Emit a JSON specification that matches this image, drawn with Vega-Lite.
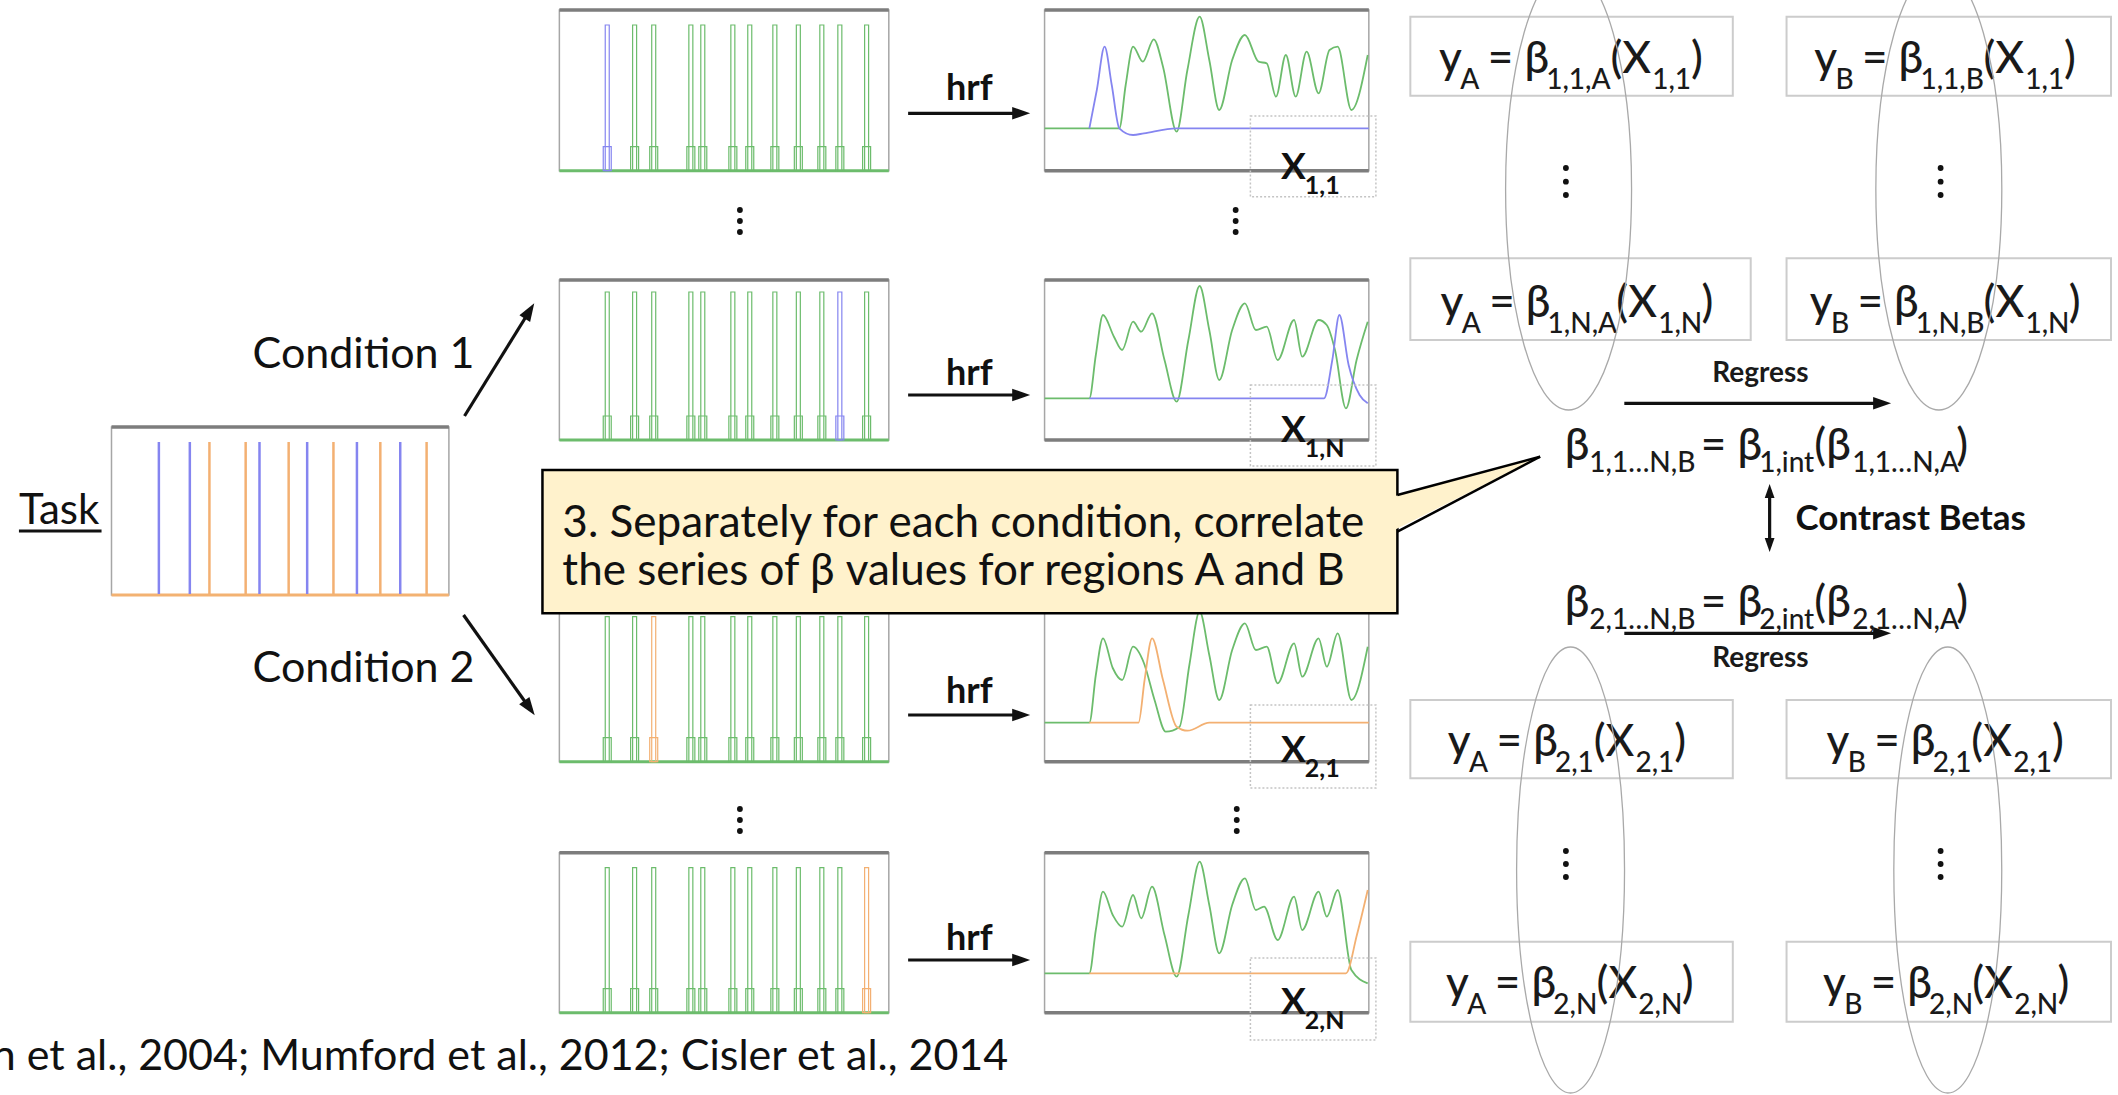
{
"$schema": "https://vega.github.io/schema/vega-lite/v6.json",
"width": 2118, "height": 1095,
"autosize": {"type": "none"},
"padding": 0,
"background": "#ffffff",
"config": {"view": {"stroke": null}, "font": "Lato"},
"datasets": {
"frames": [
{"kind":"spike","x":557,"x2":888,"y":10,"y2":170.7},
{"kind":"spike","x":557,"x2":888,"y":280,"y2":440},
{"kind":"spike","x":557,"x2":888,"y":601.7,"y2":761.7},
{"kind":"spike","x":557,"x2":888,"y":852.7,"y2":1012.7},
{"kind":"hrf","x":1044.5,"x2":1370.3,"y":10,"y2":170.7},
{"kind":"hrf","x":1044.5,"x2":1370.3,"y":280,"y2":440},
{"kind":"hrf","x":1044.5,"x2":1370.3,"y":601.7,"y2":761.7},
{"kind":"hrf","x":1044.5,"x2":1370.3,"y":852.7,"y2":1012.7},
{"kind":"task","x":107,"x2":446,"y":427,"y2":595}
],
"taskEvents": [
{"x":154.6,"c":"blue","y":442,"y2":594},{"x":185.7,"c":"blue","y":442,"y2":594},
{"x":205.4,"c":"orange","y":442,"y2":594},{"x":241.8,"c":"orange","y":442,"y2":594},
{"x":255.7,"c":"blue","y":442,"y2":594},{"x":285,"c":"orange","y":442,"y2":594},
{"x":303.6,"c":"blue","y":442,"y2":594},{"x":330,"c":"orange","y":442,"y2":594},
{"x":353.6,"c":"blue","y":442,"y2":594},{"x":377.1,"c":"orange","y":442,"y2":594},
{"x":397.1,"c":"blue","y":442,"y2":594},{"x":423.6,"c":"orange","y":442,"y2":594}
],
"spikes": [
{"x":605.1,"c":"blue","y":25,"k":146.7,"y2":170.7},{"x":632.6,"c":"green","y":25,"k":146.7,"y2":170.7},
{"x":651.8,"c":"green","y":25,"k":146.7,"y2":170.7},{"x":689.1,"c":"green","y":25,"k":146.7,"y2":170.7},
{"x":701.1,"c":"green","y":25,"k":146.7,"y2":170.7},{"x":731.3,"c":"green","y":25,"k":146.7,"y2":170.7},
{"x":748.3,"c":"green","y":25,"k":146.7,"y2":170.7},{"x":773.5,"c":"green","y":25,"k":146.7,"y2":170.7},
{"x":797.1,"c":"green","y":25,"k":146.7,"y2":170.7},{"x":820.7,"c":"green","y":25,"k":146.7,"y2":170.7},
{"x":838.8,"c":"green","y":25,"k":146.7,"y2":170.7},{"x":865.7,"c":"green","y":25,"k":146.7,"y2":170.7},
{"x":605.1,"c":"green","y":292,"k":416,"y2":440},{"x":632.6,"c":"green","y":292,"k":416,"y2":440},
{"x":651.8,"c":"green","y":292,"k":416,"y2":440},{"x":689.1,"c":"green","y":292,"k":416,"y2":440},
{"x":701.1,"c":"green","y":292,"k":416,"y2":440},{"x":731.3,"c":"green","y":292,"k":416,"y2":440},
{"x":748.3,"c":"green","y":292,"k":416,"y2":440},{"x":773.5,"c":"green","y":292,"k":416,"y2":440},
{"x":797.1,"c":"green","y":292,"k":416,"y2":440},{"x":820.7,"c":"green","y":292,"k":416,"y2":440},
{"x":838.8,"c":"blue","y":292,"k":416,"y2":440},{"x":865.7,"c":"green","y":292,"k":416,"y2":440},
{"x":605.1,"c":"green","y":616.7,"k":737.7,"y2":761.7},{"x":632.6,"c":"green","y":616.7,"k":737.7,"y2":761.7},
{"x":651.8,"c":"orange","y":616.7,"k":737.7,"y2":761.7},{"x":689.1,"c":"green","y":616.7,"k":737.7,"y2":761.7},
{"x":701.1,"c":"green","y":616.7,"k":737.7,"y2":761.7},{"x":731.3,"c":"green","y":616.7,"k":737.7,"y2":761.7},
{"x":748.3,"c":"green","y":616.7,"k":737.7,"y2":761.7},{"x":773.5,"c":"green","y":616.7,"k":737.7,"y2":761.7},
{"x":797.1,"c":"green","y":616.7,"k":737.7,"y2":761.7},{"x":820.7,"c":"green","y":616.7,"k":737.7,"y2":761.7},
{"x":838.8,"c":"green","y":616.7,"k":737.7,"y2":761.7},{"x":865.7,"c":"green","y":616.7,"k":737.7,"y2":761.7},
{"x":605.1,"c":"green","y":867.7,"k":988.7,"y2":1012.7},{"x":632.6,"c":"green","y":867.7,"k":988.7,"y2":1012.7},
{"x":651.8,"c":"green","y":867.7,"k":988.7,"y2":1012.7},{"x":689.1,"c":"green","y":867.7,"k":988.7,"y2":1012.7},
{"x":701.1,"c":"green","y":867.7,"k":988.7,"y2":1012.7},{"x":731.3,"c":"green","y":867.7,"k":988.7,"y2":1012.7},
{"x":748.3,"c":"green","y":867.7,"k":988.7,"y2":1012.7},{"x":773.5,"c":"green","y":867.7,"k":988.7,"y2":1012.7},
{"x":797.1,"c":"green","y":867.7,"k":988.7,"y2":1012.7},{"x":820.7,"c":"green","y":867.7,"k":988.7,"y2":1012.7},
{"x":838.8,"c":"green","y":867.7,"k":988.7,"y2":1012.7},{"x":865.7,"c":"orange","y":867.7,"k":988.7,"y2":1012.7}
],
"hrfCurves": [
{"id":"r1g","c":"green","x":1044.5,"y":128.3},{"id":"r1g","c":"green","x":1119.6,"y":128.3},{"id":"r1g","c":"green","x":1126,"y":85},{"id":"r1g","c":"green","x":1133.4,"y":46.7},{"id":"r1g","c":"green","x":1143.2,"y":61.7},{"id":"r1g","c":"green","x":1154.2,"y":39.3},{"id":"r1g","c":"green","x":1163.5,"y":66.7},{"id":"r1g","c":"green","x":1177.2,"y":131.7},{"id":"r1g","c":"green","x":1188,"y":70},{"id":"r1g","c":"green","x":1200.3,"y":16.7},{"id":"r1g","c":"green","x":1210,"y":60},{"id":"r1g","c":"green","x":1220,"y":110},{"id":"r1g","c":"green","x":1233,"y":60},{"id":"r1g","c":"green","x":1245.8,"y":35},{"id":"r1g","c":"green","x":1259.5,"y":61.7},{"id":"r1g","c":"green","x":1267.7,"y":63.3},{"id":"r1g","c":"green","x":1277,"y":96.7},{"id":"r1g","c":"green","x":1286.9,"y":55},{"id":"r1g","c":"green","x":1296.8,"y":96.7},{"id":"r1g","c":"green","x":1307.8,"y":51.7},{"id":"r1g","c":"green","x":1319.8,"y":93.3},{"id":"r1g","c":"green","x":1330.8,"y":50},{"id":"r1g","c":"green","x":1339,"y":46.7},{"id":"r1g","c":"green","x":1352.8,"y":110},{"id":"r1g","c":"green","x":1369.2,"y":55},
{"id":"r1b","c":"blue","x":1089.5,"y":128.3},{"id":"r1b","c":"blue","x":1097,"y":90},{"id":"r1b","c":"blue","x":1104.8,"y":46.7},{"id":"r1b","c":"blue","x":1112,"y":85},{"id":"r1b","c":"blue","x":1119.6,"y":128.3},{"id":"r1b","c":"blue","x":1133.4,"y":135},{"id":"r1b","c":"blue","x":1144.3,"y":133.3},{"id":"r1b","c":"blue","x":1177.2,"y":128.3},{"id":"r1b","c":"blue","x":1370.3,"y":128.3},
{"id":"r2g","c":"green","x":1044.5,"y":398.3},{"id":"r2g","c":"green","x":1089.5,"y":398.3},{"id":"r2g","c":"green","x":1096,"y":355},{"id":"r2g","c":"green","x":1103.2,"y":315},{"id":"r2g","c":"green","x":1114.2,"y":336.7},{"id":"r2g","c":"green","x":1122.4,"y":350},{"id":"r2g","c":"green","x":1133.4,"y":321.7},{"id":"r2g","c":"green","x":1141.6,"y":331.7},{"id":"r2g","c":"green","x":1152.5,"y":313.3},{"id":"r2g","c":"green","x":1165,"y":360},{"id":"r2g","c":"green","x":1177.2,"y":401.7},{"id":"r2g","c":"green","x":1189,"y":340},{"id":"r2g","c":"green","x":1200.3,"y":286},{"id":"r2g","c":"green","x":1210,"y":330},{"id":"r2g","c":"green","x":1220,"y":380},{"id":"r2g","c":"green","x":1233,"y":330},{"id":"r2g","c":"green","x":1245.8,"y":303.3},{"id":"r2g","c":"green","x":1256.8,"y":330},{"id":"r2g","c":"green","x":1267.7,"y":326.7},{"id":"r2g","c":"green","x":1278.7,"y":360},{"id":"r2g","c":"green","x":1295.2,"y":320},{"id":"r2g","c":"green","x":1303.4,"y":356.7},{"id":"r2g","c":"green","x":1319.8,"y":320},{"id":"r2g","c":"green","x":1328,"y":325},{"id":"r2g","c":"green","x":1336.3,"y":350},{"id":"r2g","c":"green","x":1347.3,"y":408.3},{"id":"r2g","c":"green","x":1358,"y":360},{"id":"r2g","c":"green","x":1369.2,"y":321.7},
{"id":"r2b","c":"blue","x":1089.5,"y":398.3},{"id":"r2b","c":"blue","x":1325.3,"y":398.3},{"id":"r2b","c":"blue","x":1333.6,"y":360},{"id":"r2b","c":"blue","x":1340.7,"y":315},{"id":"r2b","c":"blue","x":1350,"y":365},{"id":"r2b","c":"blue","x":1361,"y":395},{"id":"r2b","c":"blue","x":1369.2,"y":403.3},
{"id":"r3g","c":"green","x":1044.5,"y":722.7},{"id":"r3g","c":"green","x":1089.5,"y":722.7},{"id":"r3g","c":"green","x":1096,"y":675},{"id":"r3g","c":"green","x":1103.2,"y":638.3},{"id":"r3g","c":"green","x":1113,"y":668},{"id":"r3g","c":"green","x":1122.4,"y":680},{"id":"r3g","c":"green","x":1133.4,"y":646.7},{"id":"r3g","c":"green","x":1144.3,"y":663},{"id":"r3g","c":"green","x":1155,"y":700},{"id":"r3g","c":"green","x":1166.3,"y":731.7},{"id":"r3g","c":"green","x":1180,"y":727},{"id":"r3g","c":"green","x":1190,"y":665},{"id":"r3g","c":"green","x":1200.3,"y":611.7},{"id":"r3g","c":"green","x":1210,"y":655},{"id":"r3g","c":"green","x":1220,"y":700},{"id":"r3g","c":"green","x":1233,"y":650},{"id":"r3g","c":"green","x":1245.8,"y":623.3},{"id":"r3g","c":"green","x":1256.8,"y":650},{"id":"r3g","c":"green","x":1267.7,"y":646.7},{"id":"r3g","c":"green","x":1278.7,"y":683.3},{"id":"r3g","c":"green","x":1295.2,"y":643.3},{"id":"r3g","c":"green","x":1303.4,"y":676.7},{"id":"r3g","c":"green","x":1319.8,"y":638.3},{"id":"r3g","c":"green","x":1328.1,"y":666.7},{"id":"r3g","c":"green","x":1339,"y":633.3},{"id":"r3g","c":"green","x":1352.8,"y":700},{"id":"r3g","c":"green","x":1369.2,"y":646.7},
{"id":"r3o","c":"orange","x":1089.5,"y":722.7},{"id":"r3o","c":"orange","x":1138.9,"y":722.7},{"id":"r3o","c":"orange","x":1145,"y":680},{"id":"r3o","c":"orange","x":1152.5,"y":638.3},{"id":"r3o","c":"orange","x":1163.5,"y":680},{"id":"r3o","c":"orange","x":1177.2,"y":726.7},{"id":"r3o","c":"orange","x":1188.2,"y":730.7},{"id":"r3o","c":"orange","x":1210.1,"y":722.7},{"id":"r3o","c":"orange","x":1370.3,"y":722.7},
{"id":"r4g","c":"green","x":1044.5,"y":973.3},{"id":"r4g","c":"green","x":1089.5,"y":973.3},{"id":"r4g","c":"green","x":1096,"y":930},{"id":"r4g","c":"green","x":1103.2,"y":891.7},{"id":"r4g","c":"green","x":1113,"y":915},{"id":"r4g","c":"green","x":1122.4,"y":926.7},{"id":"r4g","c":"green","x":1133.4,"y":895},{"id":"r4g","c":"green","x":1141.6,"y":918.3},{"id":"r4g","c":"green","x":1152.5,"y":886.7},{"id":"r4g","c":"green","x":1165,"y":935},{"id":"r4g","c":"green","x":1177.2,"y":976.7},{"id":"r4g","c":"green","x":1189,"y":915},{"id":"r4g","c":"green","x":1200.3,"y":861.7},{"id":"r4g","c":"green","x":1210,"y":905},{"id":"r4g","c":"green","x":1220,"y":953.3},{"id":"r4g","c":"green","x":1233,"y":905},{"id":"r4g","c":"green","x":1245.8,"y":878.3},{"id":"r4g","c":"green","x":1256.8,"y":910},{"id":"r4g","c":"green","x":1265,"y":906.7},{"id":"r4g","c":"green","x":1278.7,"y":940},{"id":"r4g","c":"green","x":1295.2,"y":896.7},{"id":"r4g","c":"green","x":1303.4,"y":930},{"id":"r4g","c":"green","x":1319.8,"y":891.7},{"id":"r4g","c":"green","x":1328.1,"y":916.7},{"id":"r4g","c":"green","x":1339,"y":890},{"id":"r4g","c":"green","x":1352.8,"y":970},{"id":"r4g","c":"green","x":1369.2,"y":983.3},
{"id":"r4o","c":"orange","x":1089.5,"y":973.3},{"id":"r4o","c":"orange","x":1347.3,"y":973.3},{"id":"r4o","c":"orange","x":1358.3,"y":935},{"id":"r4o","c":"orange","x":1369.2,"y":890}
],
"xBoxes": [
{"x":1251.3,"x2":1377.4,"y":116,"y2":196.7},{"x":1251.3,"x2":1377.4,"y":385,"y2":466},
{"x":1251.3,"x2":1377.4,"y":705,"y2":788},{"x":1251.3,"x2":1377.4,"y":958,"y2":1040}
],
"xMain": [{"x":1282,"y":179,"t":"X"},{"x":1282,"y":442,"t":"X"},{"x":1282,"y":762,"t":"X"},{"x":1282,"y":1014,"t":"X"}],
"xSub": [{"x":1306,"y":194,"t":"1,1"},{"x":1306,"y":457,"t":"1,N"},{"x":1306,"y":777,"t":"2,1"},{"x":1306,"y":1029,"t":"2,N"}],
"hrfLabels": [{"x":968.8,"y":100,"t":"hrf"},{"x":968.8,"y":385,"t":"hrf"},{"x":968.8,"y":703,"t":"hrf"},{"x":968.8,"y":950,"t":"hrf"}],
"arrows": [
{"x":907.4,"y":113.3,"x2":1022,"y2":113.3},{"x":907.4,"y":395,"x2":1022,"y2":395},
{"x":907.4,"y":715,"x2":1022,"y2":715},{"x":907.4,"y":960,"x2":1022,"y2":960},
{"x":1627,"y":403.3,"x2":1887,"y2":403.3},{"x":1627,"y":633.3,"x2":1887,"y2":633.3},
{"x":1773,"y":490,"x2":1773,"y2":546},
{"x":461.7,"y":416,"x2":527,"y2":311},{"x":460.7,"y":615,"x2":527,"y2":708}
],
"heads": [
{"dir":"right","x":1021,"y":113.3},{"dir":"right","x":1021,"y":395},{"dir":"right","x":1021,"y":715},{"dir":"right","x":1021,"y":960},
{"dir":"right","x":1886,"y":403.3},{"dir":"right","x":1886,"y":633.3},
{"dir":"up","x":1773,"y":491},{"dir":"down","x":1773,"y":545},
{"dir":"c1","x":527,"y":311},{"dir":"c2","x":527,"y":708}
],
"dots": [
{"x":738.4,"y":210},{"x":738.4,"y":221},{"x":738.4,"y":232},{"x":1236.5,"y":210},{"x":1236.5,"y":221},{"x":1236.5,"y":232},
{"x":738.4,"y":809},{"x":738.4,"y":820},{"x":738.4,"y":831},{"x":1237.6,"y":809},{"x":1237.6,"y":820},{"x":1237.6,"y":831},
{"x":1568.3,"y":168},{"x":1568.3,"y":181.7},{"x":1568.3,"y":195},{"x":1944.8,"y":168},{"x":1944.8,"y":181.7},{"x":1944.8,"y":195},
{"x":1568.3,"y":851},{"x":1568.3,"y":864},{"x":1568.3,"y":877},{"x":1944.8,"y":851},{"x":1944.8,"y":864},{"x":1944.8,"y":877}
],
"taskLabel": [{"x":14,"y":524,"t":"Task"}],
"underline": [{"x":14,"x2":97,"y":531}],
"condLabels": [{"x":471.7,"y":368,"t":"Condition 1"},{"x":471.7,"y":682,"t":"Condition 2"}],
"eqBoxes": [
{"x":1412,"x2":1736,"y":16.7,"y2":95.7},{"x":1790,"x2":2116,"y":16.7,"y2":95.7},
{"x":1412,"x2":1754,"y":258.3,"y2":340},{"x":1790,"x2":2116,"y":258.3,"y2":340},
{"x":1412,"x2":1736,"y":700,"y2":778.3},{"x":1790,"x2":2116,"y":700,"y2":778.3},
{"x":1412,"x2":1736,"y":941.7,"y2":1021.7},{"x":1790,"x2":2116,"y":941.7,"y2":1021.7}
],
"eqMain": [
{"x":1440.8,"y":73,"t":"y"},{"x":1489.8,"y":73,"t":"= β"},{"x":1613.0,"y":73,"t":"(X"},{"x":1693.9,"y":73,"t":")"},
{"x":1817.8,"y":73,"t":"y"},{"x":1865.8,"y":73,"t":"= β"},{"x":1987.9,"y":73,"t":"(X"},{"x":2068.8,"y":73,"t":")"},
{"x":1442.2,"y":317,"t":"y"},{"x":1491.2,"y":317,"t":"= β"},{"x":1619.0,"y":317,"t":"(X"},{"x":1704.5,"y":317,"t":")"},
{"x":1813.2,"y":317,"t":"y"},{"x":1861.2,"y":317,"t":"= β"},{"x":1988.0,"y":317,"t":"(X"},{"x":2073.5,"y":317,"t":")"},
{"x":1449.6,"y":756,"t":"y"},{"x":1498.6,"y":756,"t":"= β"},{"x":1596.2,"y":756,"t":"(X"},{"x":1677.1,"y":756,"t":")"},
{"x":1830.1,"y":756,"t":"y"},{"x":1878.1,"y":756,"t":"= β"},{"x":1975.7,"y":756,"t":"(X"},{"x":2056.6,"y":756,"t":")"},
{"x":1447.9,"y":998,"t":"y"},{"x":1496.9,"y":998,"t":"= β"},{"x":1599.1,"y":998,"t":"(X"},{"x":1684.6,"y":998,"t":")"},
{"x":1826.5,"y":998,"t":"y"},{"x":1874.5,"y":998,"t":"= β"},{"x":1976.7,"y":998,"t":"(X"},{"x":2062.2,"y":998,"t":")"},
{"x":1567.2,"y":460,"t":"β"},{"x":1703.9,"y":460,"t":"= β"},{"x":1817.9,"y":460,"t":"(β"},{"x":1960.6,"y":460,"t":")"},
{"x":1567.2,"y":617,"t":"β"},{"x":1703.9,"y":617,"t":"= β"},{"x":1817.9,"y":617,"t":"(β"},{"x":1960.6,"y":617,"t":")"}
],
"eqSub": [
{"x":1462.2,"y":89,"t":"A"},{"x":1548.5,"y":89,"t":"1,1,A"},{"x":1655.0,"y":89,"t":"1,1"},
{"x":1839.2,"y":89,"t":"B"},{"x":1924.5,"y":89,"t":"1,1,B"},{"x":2029.9,"y":89,"t":"1,1"},
{"x":1463.6,"y":333,"t":"A"},{"x":1549.9,"y":333,"t":"1,N,A"},{"x":1661.0,"y":333,"t":"1,N"},
{"x":1834.6,"y":333,"t":"B"},{"x":1919.9,"y":333,"t":"1,N,B"},{"x":2030.0,"y":333,"t":"1,N"},
{"x":1471.0,"y":772,"t":"A"},{"x":1557.3,"y":772,"t":"2,1"},{"x":1638.2,"y":772,"t":"2,1"},
{"x":1851.5,"y":772,"t":"B"},{"x":1936.8,"y":772,"t":"2,1"},{"x":2017.7,"y":772,"t":"2,1"},
{"x":1469.3,"y":1014,"t":"A"},{"x":1555.6,"y":1014,"t":"2,N"},{"x":1641.1,"y":1014,"t":"2,N"},
{"x":1847.9,"y":1014,"t":"B"},{"x":1933.2,"y":1014,"t":"2,N"},{"x":2018.7,"y":1014,"t":"2,N"},
{"x":1591.8,"y":472,"t":"1,1…N,B"},{"x":1762.5,"y":472,"t":"1,int"},{"x":1855.9,"y":472,"t":"1,1…N,A"},
{"x":1591.8,"y":629,"t":"2,1…N,B"},{"x":1762.5,"y":629,"t":"2,int"},{"x":1855.9,"y":629,"t":"2,1…N,A"}
],
"ellipses": [
{"g":"upper","x":1571,"y":189},{"g":"upper","x":1943,"y":189},
{"g":"lower","x":1573,"y":870},{"g":"lower","x":1952,"y":870}
],
"regress": [{"x":1763.7,"y":382,"t":"Regress"},{"x":1763.7,"y":667,"t":"Regress"}],
"contrast": [{"x":1799,"y":530,"t":"Contrast Betas"}],
"callout": [{"x":540,"x2":1399,"y":470,"y2":613.3}],
"pointerFill": [{"x":1395,"y":496.5,"y2":530.5},{"x":1542.4,"y":456.7,"y2":456.7}],
"pointerEdges": [{"x":1399,"y":495,"x2":1542.4,"y2":456.7},{"x":1399,"y":531.7,"x2":1542.4,"y2":456.7}],
"calloutText": [
{"x":560,"y":536.7,"t":"3. Separately for each condition, correlate"},
{"x":560,"y":585,"t":"the series of β values for regions A and B"}
],
"citation": [{"x":1008,"y":1070,"t":"Rissman et al., 2004; Mumford et al., 2012; Cisler et al., 2014"}]
},
"encoding": {
"x": {"field":"x","type":"quantitative","scale":{"domain":[0,2118],"nice":false,"zero":false},"axis":null},
"y": {"field":"y","type":"quantitative","scale":{"domain":[0,1095],"reverse":true,"nice":false,"zero":false},"axis":null}
},
"layer": [
{"data":{"name":"frames"},"mark":{"type":"rect","fill":"#ffffff","stroke":"#a6a6a6","strokeWidth":1.5},
 "encoding":{"x2":{"field":"x2"},"y2":{"field":"y2"}}},
{"data":{"name":"frames"},"mark":{"type":"rule","stroke":"#7d7d7d","strokeWidth":3.5},
 "encoding":{"x2":{"field":"x2"}}},
{"data":{"name":"frames"},"transform":[{"filter":"datum.kind == 'hrf'"}],"mark":{"type":"rule","stroke":"#7d7d7d","strokeWidth":3.5},
 "encoding":{"y":{"field":"y2","type":"quantitative","scale":{"domain":[0,1095],"reverse":true,"nice":false,"zero":false},"axis":null},"x2":{"field":"x2"}}},
{"data":{"name":"frames"},"transform":[{"filter":"datum.kind == 'spike'"}],"mark":{"type":"rule","stroke":"#6cbc6c","strokeWidth":3},
 "encoding":{"y":{"field":"y2","type":"quantitative","scale":{"domain":[0,1095],"reverse":true,"nice":false,"zero":false},"axis":null},"x2":{"field":"x2"}}},
{"data":{"name":"frames"},"transform":[{"filter":"datum.kind == 'task'"}],"mark":{"type":"rule","stroke":"#f3b272","strokeWidth":3},
 "encoding":{"y":{"field":"y2","type":"quantitative","scale":{"domain":[0,1095],"reverse":true,"nice":false,"zero":false},"axis":null},"x2":{"field":"x2"}}},
{"data":{"name":"taskEvents"},"mark":{"type":"rule","strokeWidth":2.5},
 "encoding":{"y2":{"field":"y2"},"stroke":{"field":"c","type":"nominal","scale":{"domain":["green","blue","orange"],"range":["#6cbc6c","#8585f0","#f3b072"]},"legend":null}}},
{"data":{"name":"spikes"},"mark":{"type":"bar","width":8,"filled":false,"strokeWidth":1.2},
 "encoding":{"y":{"field":"k","type":"quantitative","scale":{"domain":[0,1095],"reverse":true,"nice":false,"zero":false},"axis":null},"y2":{"field":"y2"},
  "stroke":{"field":"c","type":"nominal","scale":{"domain":["green","blue","orange"],"range":["#6cbc6c","#8585f0","#f3b072"]},"legend":null}}},
{"data":{"name":"spikes"},"mark":{"type":"bar","width":4,"filled":false,"strokeWidth":1.2},
 "encoding":{"y2":{"field":"y2"},
  "stroke":{"field":"c","type":"nominal","scale":{"domain":["green","blue","orange"],"range":["#6cbc6c","#8585f0","#f3b072"]},"legend":null}}},
{"data":{"name":"hrfCurves"},"mark":{"type":"line","interpolate":"monotone","strokeWidth":1.8},
 "encoding":{"detail":{"field":"id"},
  "stroke":{"field":"c","type":"nominal","scale":{"domain":["green","blue","orange"],"range":["#6cbc6c","#8585f0","#f3b072"]},"legend":null}}},
{"data":{"name":"xBoxes"},"mark":{"type":"rect","fill":null,"fillOpacity":0,"stroke":"#c4c4c4","strokeWidth":1.5,"strokeDash":[2,2]},
 "encoding":{"x2":{"field":"x2"},"y2":{"field":"y2"}}},
{"data":{"name":"xMain"},"mark":{"type":"text","align":"left","baseline":"alphabetic","font":"Lato","fontWeight":"bold","fontSize":37,"color":"#111111"},
 "encoding":{"text":{"field":"t"}}},
{"data":{"name":"xSub"},"mark":{"type":"text","align":"left","baseline":"alphabetic","font":"Lato","fontWeight":"bold","fontSize":25,"color":"#111111"},
 "encoding":{"text":{"field":"t"}}},
{"data":{"name":"hrfLabels"},"mark":{"type":"text","align":"center","baseline":"alphabetic","font":"Lato","fontWeight":"bold","fontSize":36,"color":"#111111"},
 "encoding":{"text":{"field":"t"}}},
{"data":{"name":"arrows"},"mark":{"type":"rule","stroke":"#111111","strokeWidth":3.2},
 "encoding":{"x2":{"field":"x2"},"y2":{"field":"y2"}}},
{"data":{"name":"heads"},"transform":[{"filter":"datum.dir == 'right'"}],"mark":{"type":"point","shape":"M-1,-0.7L1,0L-1,0.7Z","size":324,"filled":true,"color":"#111111","opacity":1,"strokeWidth":0}},
{"data":{"name":"heads"},"transform":[{"filter":"datum.dir == 'up'"}],"mark":{"type":"point","shape":"M-1,-0.7L1,0L-1,0.7Z","size":196,"angle":270,"filled":true,"color":"#111111","opacity":1,"strokeWidth":0}},
{"data":{"name":"heads"},"transform":[{"filter":"datum.dir == 'down'"}],"mark":{"type":"point","shape":"M-1,-0.7L1,0L-1,0.7Z","size":196,"angle":90,"filled":true,"color":"#111111","opacity":1,"strokeWidth":0}},
{"data":{"name":"heads"},"transform":[{"filter":"datum.dir == 'c1'"}],"mark":{"type":"point","shape":"M-1,-0.7L1,0L-1,0.7Z","size":324,"angle":301.8,"filled":true,"color":"#111111","opacity":1,"strokeWidth":0}},
{"data":{"name":"heads"},"transform":[{"filter":"datum.dir == 'c2'"}],"mark":{"type":"point","shape":"M-1,-0.7L1,0L-1,0.7Z","size":324,"angle":54.5,"filled":true,"color":"#111111","opacity":1,"strokeWidth":0}},
{"data":{"name":"dots"},"mark":{"type":"circle","size":34,"color":"#111111","opacity":1}},
{"data":{"name":"taskLabel"},"mark":{"type":"text","align":"left","baseline":"alphabetic","font":"Lato","fontSize":42,"color":"#111111"},
 "encoding":{"text":{"field":"t"}}},
{"data":{"name":"underline"},"mark":{"type":"rule","stroke":"#111111","strokeWidth":3},
 "encoding":{"x2":{"field":"x2"}}},
{"data":{"name":"condLabels"},"mark":{"type":"text","align":"right","baseline":"alphabetic","font":"Lato","fontSize":43,"color":"#111111"},
 "encoding":{"text":{"field":"t"}}},
{"data":{"name":"eqBoxes"},"mark":{"type":"rect","fill":null,"fillOpacity":0,"stroke":"#cccccc","strokeWidth":2},
 "encoding":{"x2":{"field":"x2"},"y2":{"field":"y2"}}},
{"data":{"name":"eqMain"},"mark":{"type":"text","align":"left","baseline":"alphabetic","font":"Lato","fontWeight":500,"fontSize":44,"color":"#1a1a1a"},
 "encoding":{"text":{"field":"t"}}},
{"data":{"name":"eqSub"},"mark":{"type":"text","align":"left","baseline":"alphabetic","font":"Lato","fontWeight":500,"fontSize":28,"color":"#1a1a1a"},
 "encoding":{"text":{"field":"t"}}},
{"data":{"name":"ellipses"},"transform":[{"filter":"datum.g == 'upper'"}],
 "mark":{"type":"point","shape":"M0,-1C0.157,-1 0.285,-0.552 0.285,0C0.285,0.552 0.157,1 0,1C-0.157,1 -0.285,0.552 -0.285,0C-0.285,-0.552 -0.157,-1 0,-1Z","size":195364,"filled":false,"stroke":"#a9a9a9","strokeWidth":1.3,"opacity":1}},
{"data":{"name":"ellipses"},"transform":[{"filter":"datum.g == 'lower'"}],
 "mark":{"type":"point","shape":"M0,-1C0.134,-1 0.242,-0.552 0.242,0C0.242,0.552 0.134,1 0,1C-0.134,1 -0.242,0.552 -0.242,0C-0.242,-0.552 -0.134,-1 0,-1Z","size":198916,"filled":false,"stroke":"#a9a9a9","strokeWidth":1.3,"opacity":1}},
{"data":{"name":"regress"},"mark":{"type":"text","align":"center","baseline":"alphabetic","font":"Lato","fontWeight":"bold","fontSize":28,"color":"#1a1a1a"},
 "encoding":{"text":{"field":"t"}}},
{"data":{"name":"contrast"},"mark":{"type":"text","align":"left","baseline":"alphabetic","font":"Lato","fontWeight":"bold","fontSize":35,"color":"#111111"},
 "encoding":{"text":{"field":"t"}}},
{"data":{"name":"callout"},"mark":{"type":"rect","fill":"#fff2cc","stroke":"#000000","strokeWidth":2.5},
 "encoding":{"x2":{"field":"x2"},"y2":{"field":"y2"}}},
{"data":{"name":"pointerFill"},"mark":{"type":"area","fill":"#fff2cc","opacity":1,"strokeWidth":0},
 "encoding":{"y2":{"field":"y2"}}},
{"data":{"name":"pointerEdges"},"mark":{"type":"rule","stroke":"#000000","strokeWidth":2.5},
 "encoding":{"x2":{"field":"x2"},"y2":{"field":"y2"}}},
{"data":{"name":"calloutText"},"mark":{"type":"text","align":"left","baseline":"alphabetic","font":"Lato","fontSize":44,"color":"#111111"},
 "encoding":{"text":{"field":"t"}}},
{"data":{"name":"citation"},"mark":{"type":"text","align":"right","baseline":"alphabetic","font":"Lato","fontSize":43,"color":"#111111"},
 "encoding":{"text":{"field":"t"}}}
]
}
